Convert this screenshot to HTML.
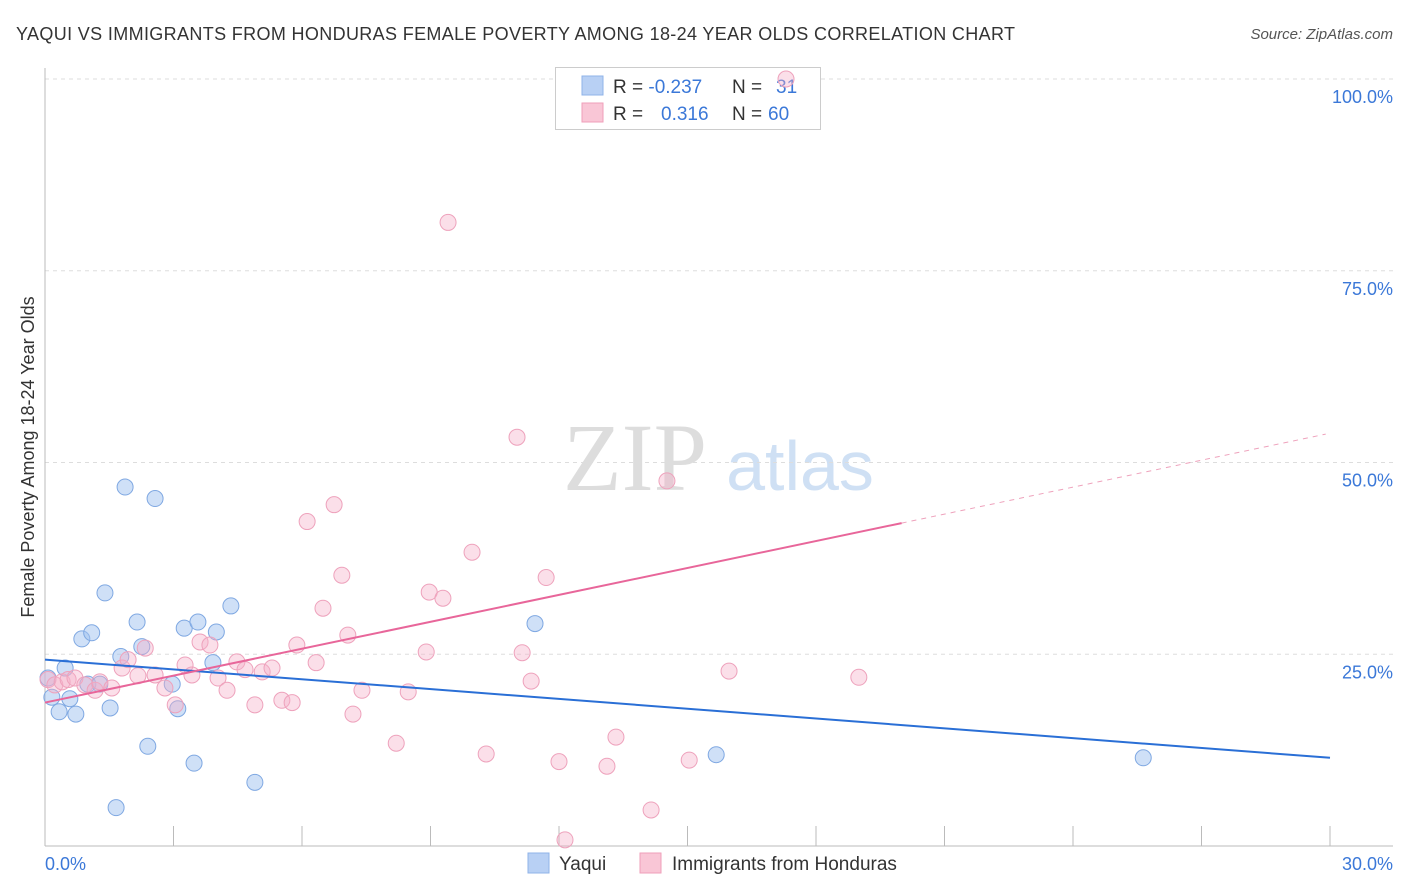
<!DOCTYPE html>
<html><head><meta charset="utf-8"><style>
body{margin:0;background:#fff;font-family:"Liberation Sans",sans-serif;}
svg{display:block}
</style></head><body>
<svg id="chart" width="1406" height="892">
<text x="16" y="40" font-size="18" textLength="999" fill="#333">YAQUI VS IMMIGRANTS FROM HONDURAS FEMALE POVERTY AMONG 18-24 YEAR OLDS CORRELATION CHART</text>
<text x="1393" y="39" font-size="15" fill="#555" font-style="italic" text-anchor="end">Source: ZipAtlas.com</text>
<text x="635" y="490" font-size="96" font-family="Liberation Serif,serif" fill="#ddd" text-anchor="middle">ZIP</text>
<text x="800" y="490" font-size="70" fill="#cfe0f4" text-anchor="middle">atlas</text>
<text transform="translate(34,457) rotate(-90)" font-size="18" fill="#333" text-anchor="middle">Female Poverty Among 18-24 Year Olds</text>
<g id="grid"></g>
<g>
<rect x="555.5" y="67.5" width="265" height="62" fill="#fff" stroke="#ccc"/>
<rect x="582" y="76" width="21" height="19" fill="#b8d0f4" stroke="#8fb3e8"/>
<rect x="582" y="103" width="21" height="19" fill="#f9c6d6" stroke="#ef9fba"/>
<text x="613" y="93" font-size="19" fill="#333">R = <tspan fill="#3b78d8">-0.237</tspan><tspan x="732">N = </tspan><tspan x="776" fill="#3b78d8">31</tspan></text>
<text x="613" y="120" font-size="19" fill="#333">R = <tspan x="661" fill="#3b78d8">0.316</tspan><tspan x="732">N = </tspan><tspan x="768" fill="#3b78d8">60</tspan></text>
</g>
<g id="marks"></g>
<g>
<rect x="528" y="853" width="21" height="20" fill="#b8d0f4" stroke="#8fb3e8"/>
<text x="559" y="870" font-size="19" fill="#333">Yaqui</text>
<rect x="640" y="853" width="21" height="20" fill="#f9c6d6" stroke="#ef9fba"/>
<text x="672" y="870" font-size="19" fill="#333">Immigrants from Honduras</text>
</g>
</svg>
<script>
const yaquiX=[0.16,0.33,0.47,0.58,0.72,0.86,1.09,1.0,1.28,1.4,1.52,1.77,1.87,2.15,2.26,2.4,2.57,2.97,3.1,3.25,3.48,3.57,3.92,4.0,4.34,4.9,1.66,11.44,15.67,25.64,0.07];
const yaquiY=[19.4,17.5,23.2,19.2,17.2,27.0,27.8,21.1,21.1,33.0,18.0,24.7,46.8,29.2,26.0,13.0,45.3,21.1,17.9,28.4,10.8,29.2,23.9,27.9,31.3,8.3,5.0,29.0,11.9,11.5,21.9];
const hondX=[0.07,0.23,0.4,0.54,0.7,0.93,1.17,1.28,1.56,1.8,1.94,2.17,2.34,2.57,2.8,3.04,3.27,3.43,3.62,3.85,4.04,4.25,4.48,4.67,4.9,5.07,5.3,5.53,5.77,5.88,6.12,6.33,6.49,6.75,6.93,7.07,7.19,7.4,8.2,8.48,8.9,8.97,9.29,9.41,9.97,10.3,11.02,11.14,11.35,11.7,12.0,12.14,13.12,13.33,14.15,14.52,15.04,15.97,19.0,17.3];
const hondY=[21.7,21.0,21.4,21.7,21.9,21.0,20.3,21.4,20.6,23.2,24.3,22.2,25.8,22.3,20.6,18.4,23.6,22.3,26.6,26.2,21.9,20.3,24.0,23.0,18.4,22.7,23.2,19.0,18.7,26.2,42.3,23.9,31.0,44.5,35.3,27.5,17.2,20.3,13.4,20.1,25.3,33.1,32.3,81.3,38.3,12.0,53.3,25.2,21.5,35.0,11.0,0.8,10.4,14.2,4.7,47.6,11.2,22.8,22.0,100];
const yTicks=[25,50,75,100];
const xTickLabels=["0.0%","30.0%"];
const yaquiTrend=[24.3,11.5];
const hondTrend=[18.7,42.1,53.7];
const trendX=[0,20,29.9];
const X=v=>45+v*(1285/30), Y=v=>846-v*(767/100);
const NS="http://www.w3.org/2000/svg";
function mk(tag,attrs,parent){const e=document.createElementNS(NS,tag);for(const k in attrs)e.setAttribute(k,attrs[k]);parent.appendChild(e);return e;}
const grid=document.getElementById('grid'), marks=document.getElementById('marks');
yTicks.forEach(t=>{
 const l=mk('line',{x1:45,x2:1393,y1:Y(t),y2:Y(t),stroke:'#ddd','stroke-dasharray':'4 4'},grid);
 
 
 const tx=mk('text',{x:1393,y:Y(t)+24,'font-size':18,fill:'#3b78d8','text-anchor':'end'},grid);
 tx.textContent=t.toFixed(1)+'%';
 
 
});
const ax=mk('line',{x1:45,x2:45,y1:68,y2:846,stroke:'#bbb'},grid);


const bx=mk('line',{x1:45,x2:1393,y1:846,y2:846,stroke:'#bbb'},grid);


for(let i=0;i<=10;i++){const t=mk('line',{x1:X(i*3),x2:X(i*3),y1:826,y2:846,stroke:'#bbb'},grid);
 
 }
[[0,'start',45],[30,'end',1393]].forEach((d,i)=>{const t=mk('text',{x:d[2],y:870,'font-size':18,fill:'#3b78d8','text-anchor':d[1]},grid);t.textContent=xTickLabels[i];
 
 });
function dots(xs,ys,fill,stroke,name){xs.forEach((x,i)=>{const c=mk('circle',{cx:X(x),cy:Y(ys[i]),r:8,fill:fill,stroke:stroke,'stroke-width':1},marks);
 
 });}
dots(yaquiX,yaquiY,'rgba(160,194,240,0.5)','#7fa8e2','yaqui-point');
dots(hondX,hondY,'rgba(245,175,200,0.4)','#eea2bc','honduras-point');
const yl=mk('line',{x1:X(0),y1:Y(yaquiTrend[0]),x2:X(30),y2:Y(yaquiTrend[1]),stroke:'#2a6fd6','stroke-width':2},marks);


const hl=mk('line',{x1:X(trendX[0]),y1:Y(hondTrend[0]),x2:X(trendX[1]),y2:Y(hondTrend[1]),stroke:'#e8669a','stroke-width':2},marks);


const hd=mk('line',{x1:X(trendX[1]),y1:Y(hondTrend[1]),x2:X(trendX[2]),y2:Y(hondTrend[2]),stroke:'#eea2bc','stroke-width':1,'stroke-dasharray':'5 5'},marks);


</script>
</body></html>
